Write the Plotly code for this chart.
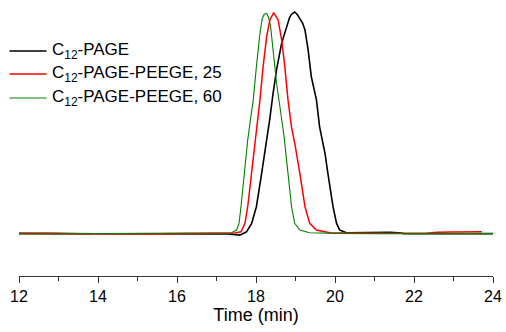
import plotly.graph_objects as go

# ---- data ----
black_t = [12.0, 12.5, 13.0, 14.0, 15.0, 16.0, 16.8, 17.3, 17.59, 17.76, 17.89, 18.01, 18.14, 18.27, 18.35,
           18.43, 18.52, 18.65, 18.77, 18.85, 18.90, 18.98, 19.04, 19.11, 19.18, 19.24, 19.32, 19.40, 19.46,
           19.53, 19.61, 19.68, 19.75, 19.82, 19.95, 20.04, 20.12, 20.29, 20.6, 21.0, 21.4, 21.6, 21.75,
           22.5, 23.0, 24.0]
black_v = [0.003, 0.004, 0.002, 0.001, 0.0, 0.0, 0.001, 0.0, -0.005, 0.010, 0.048, 0.123, 0.27, 0.42, 0.52,
           0.63, 0.74, 0.86, 0.935, 0.975, 0.99, 1.0, 0.99, 0.972, 0.95, 0.919, 0.829, 0.709, 0.66,
           0.604, 0.483, 0.423, 0.36, 0.273, 0.123, 0.048, 0.018, 0.006, 0.007, 0.008, 0.008, 0.006, 0.002,
           0.001, 0.002, 0.002]

red_t = [12.0, 12.8, 13.5, 14.5, 15.5, 16.5, 17.2, 17.46, 17.62, 17.72, 17.79, 17.89, 17.97, 18.03, 18.10,
         18.18, 18.27, 18.35, 18.45, 18.56, 18.65, 18.73, 18.81, 18.90, 18.98, 19.11, 19.24, 19.36, 19.53,
         19.87, 20.5, 21.5, 22.3, 22.6, 23.0, 23.4, 23.72]
red_v = [0.002, 0.004, 0.001, 0.0, 0.001, 0.002, 0.003, 0.005, 0.010, 0.048, 0.123, 0.273, 0.40, 0.48, 0.604,
         0.754, 0.889, 0.964, 0.997, 0.964, 0.874, 0.754, 0.604, 0.48, 0.41, 0.273, 0.123, 0.048, 0.018,
         0.006, 0.004, 0.003, 0.004, 0.008, 0.009, 0.010, 0.010]

green_t = [12.0, 13.0, 14.0, 15.0, 16.0, 16.8, 17.2, 17.38, 17.51, 17.57, 17.62, 17.70, 17.79, 17.86, 17.93,
           18.01, 18.10, 18.16, 18.21, 18.27, 18.32, 18.37, 18.43, 18.52, 18.60, 18.71, 18.81, 18.90, 18.98,
           19.11, 19.36, 20.0, 21.0, 22.0, 23.0, 24.0]
green_v = [0.0, 0.001, 0.0, 0.001, 0.002, 0.003, 0.004, 0.006, 0.018, 0.048, 0.123, 0.273, 0.423, 0.515, 0.604,
           0.754, 0.904, 0.972, 0.99, 0.994, 0.975, 0.934, 0.829, 0.68, 0.58, 0.44, 0.273, 0.123, 0.048,
           0.018, 0.006, 0.003, 0.002, 0.002, 0.002, 0.002]

names = ["C<sub>12</sub>-PAGE", "C<sub>12</sub>-PAGE-PEEGE, 25", "C<sub>12</sub>-PAGE-PEEGE, 60"]
colors = ["#000000", "#ff0000", "#008000"]
widths = [1.6, 1.5, 1.1]
x_ticks = [12, 14, 16, 18, 20, 22, 24]

FONT = "Arial, Liberation Sans, sans-serif"

fig = go.Figure()
for t, v, c, w in zip([black_t, red_t, green_t], [black_v, red_v, green_v], colors, widths):
    fig.add_trace(go.Scatter(x=t, y=v, mode="lines", line=dict(color=c, width=w), showlegend=False))

# manual legend (paper coordinates)
leg_y = [0.8302, 0.7454, 0.6568]
for name, c, w, yy in zip(names, colors, widths, leg_y):
    fig.add_shape(type="line", xref="paper", yref="paper", x0=-0.020, x1=0.058, y0=yy, y1=yy,
                  line=dict(color=c, width=w))
    fig.add_annotation(xref="paper", yref="paper", x=0.066, y=yy, xanchor="left", yanchor="middle",
                       text=name, showarrow=False, font=dict(family=FONT, size=17, color="#000000"))

fig.update_layout(
    width=506, height=332,
    margin=dict(l=19, r=13, t=5, b=56),
    paper_bgcolor="white", plot_bgcolor="white",
    font=dict(family=FONT, size=16, color="#000000"),
    xaxis=dict(range=[12, 24], tickvals=x_ticks, ticks="outside", ticklen=6, tickwidth=1.3,
               tickcolor="#333333", showline=True, linecolor="#333333", linewidth=1.3,
               showgrid=False, zeroline=False,
               minor=dict(dtick=1, ticks="outside", ticklen=3.5, tickwidth=1.3, tickcolor="#333333",
                          showgrid=False),
               tickfont=dict(family=FONT, size=16, color="#000000"),
               title=dict(text="Time (min)", font=dict(family=FONT, size=18, color="#000000"), standoff=4)),
    yaxis=dict(range=[-0.189, 1.0315], visible=False),
)

fig.write_html("out.html", config={"displayModeBar": False},
               post_script="document.body.style.margin='0';")
